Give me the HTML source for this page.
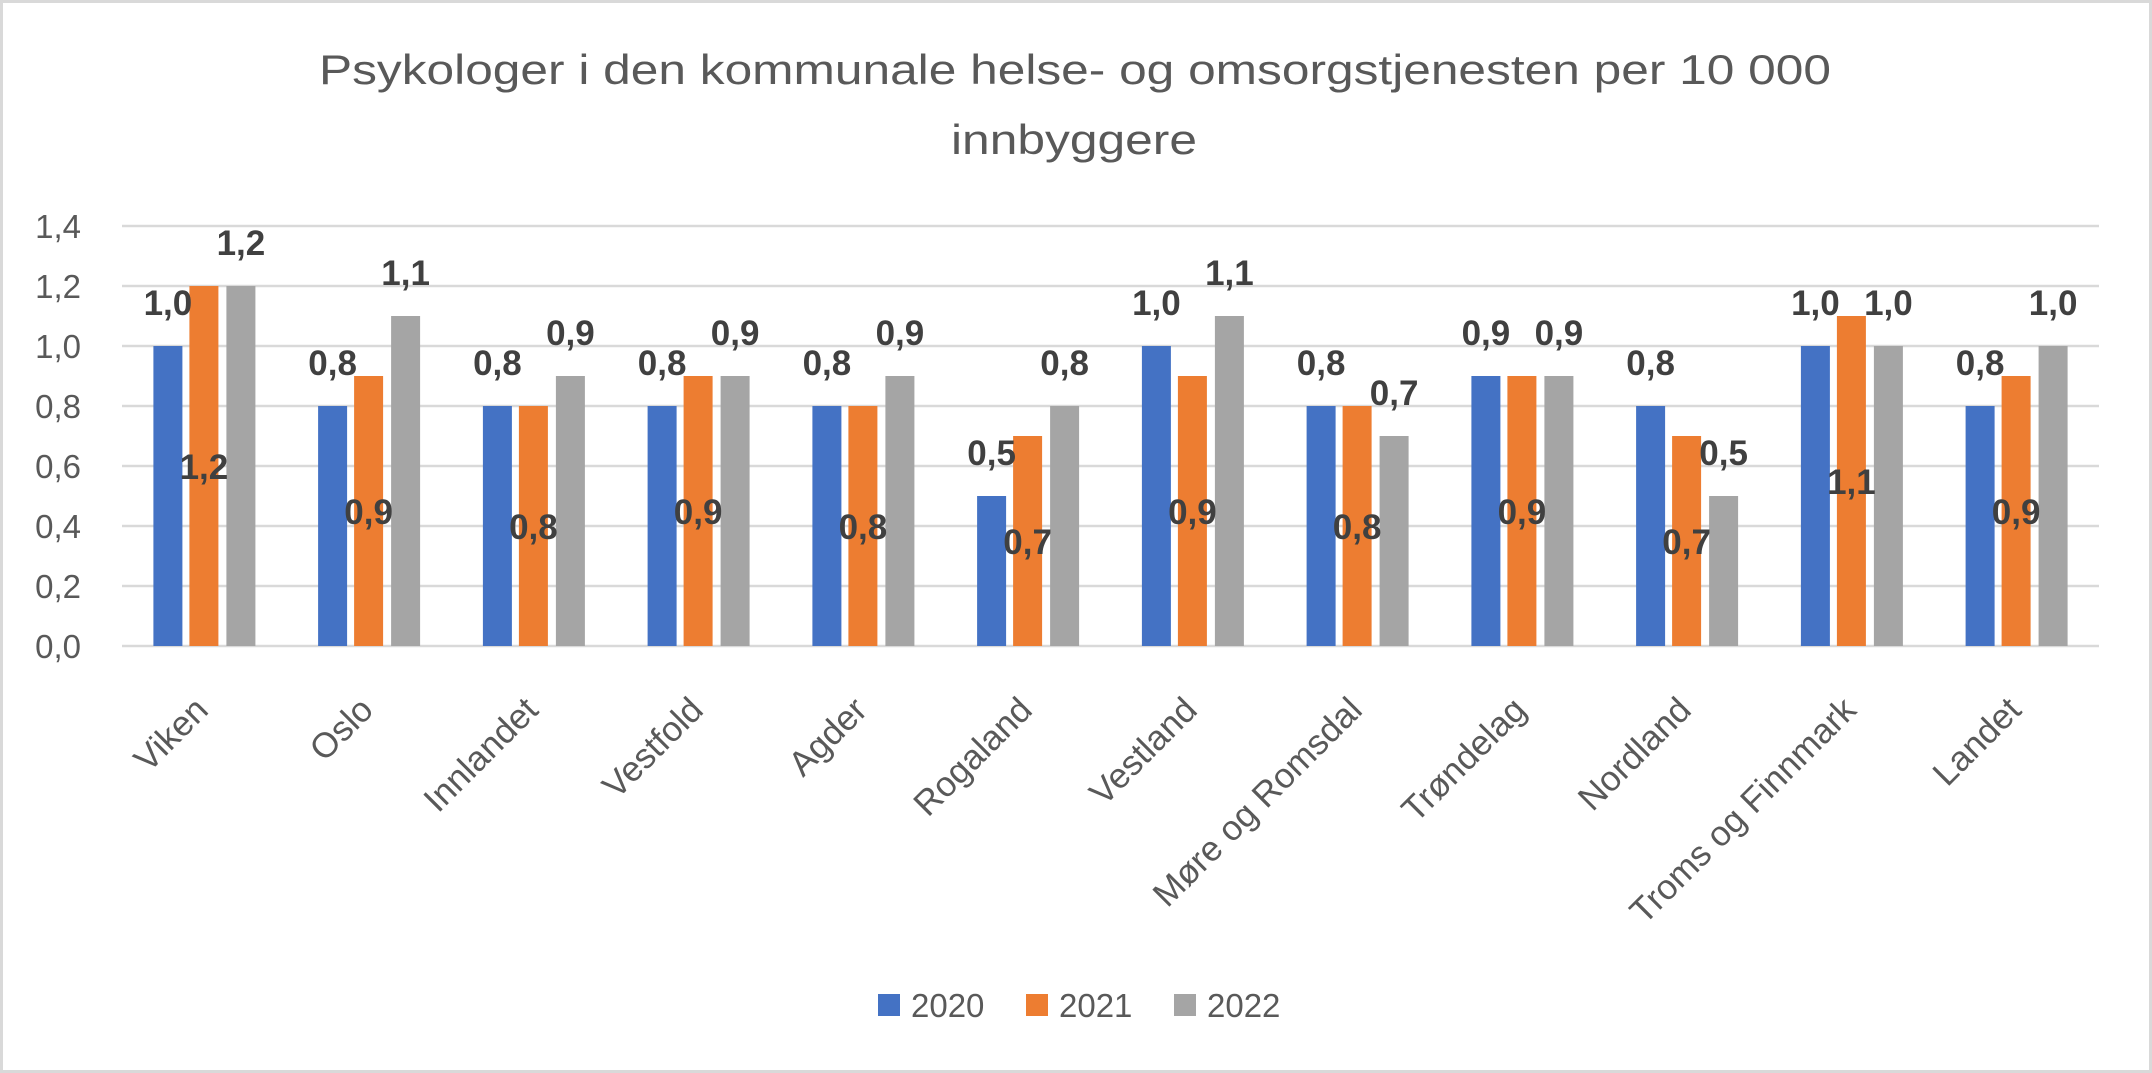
<!DOCTYPE html>
<html><head><meta charset="utf-8"><style>
html,body{margin:0;padding:0;background:#fff;}
svg{display:block;}
text{font-family:"Liberation Sans",sans-serif;}
.t{fill:#595959;font-size:33px;}
.d{fill:#404040;font-size:35px;font-weight:bold;text-anchor:middle;}
.c{fill:#595959;font-size:35px;text-anchor:end;}
</style></head><body>
<svg width="2152" height="1073" viewBox="0 0 2152 1073" xmlns="http://www.w3.org/2000/svg">
<rect x="1.5" y="1.5" width="2149" height="1070" fill="#fff" stroke="#d9d9d9" stroke-width="3"/>
<text x="1075" y="84" text-anchor="middle" style="font-size:42px;fill:#595959" textLength="1512" lengthAdjust="spacingAndGlyphs">Psykologer i den kommunale helse- og omsorgstjenesten per 10 000</text>
<text x="1074" y="154" text-anchor="middle" style="font-size:42px;fill:#595959" textLength="246" lengthAdjust="spacingAndGlyphs">innbyggere</text>
<g stroke="#d9d9d9" stroke-width="2.5">
<line x1="122" x2="2099" y1="226" y2="226"/><line x1="122" x2="2099" y1="286" y2="286"/>
<line x1="122" x2="2099" y1="346" y2="346"/><line x1="122" x2="2099" y1="406" y2="406"/>
<line x1="122" x2="2099" y1="466" y2="466"/><line x1="122" x2="2099" y1="526" y2="526"/>
<line x1="122" x2="2099" y1="586" y2="586"/><line x1="122" x2="2099" y1="646" y2="646"/>
</g>
<g class="t" text-anchor="end">
<text x="81" y="238">1,4</text><text x="81" y="298">1,2</text><text x="81" y="358">1,0</text>
<text x="81" y="418">0,8</text><text x="81" y="478">0,6</text><text x="81" y="538">0,4</text>
<text x="81" y="598">0,2</text><text x="81" y="658">0,0</text>
</g>
<g fill="#4472c4">
<rect x="153.4" y="346" width="29" height="300"/><rect x="318.1" y="406" width="29" height="240"/>
<rect x="482.9" y="406" width="29" height="240"/><rect x="647.6" y="406" width="29" height="240"/>
<rect x="812.4" y="406" width="29" height="240"/><rect x="977.1" y="496" width="29" height="150"/>
<rect x="1141.9" y="346" width="29" height="300"/><rect x="1306.6" y="406" width="29" height="240"/>
<rect x="1471.4" y="376" width="29" height="270"/><rect x="1636.1" y="406" width="29" height="240"/>
<rect x="1800.9" y="346" width="29" height="300"/><rect x="1965.6" y="406" width="29" height="240"/>
</g>
<g fill="#ed7d31">
<rect x="189.4" y="286" width="29" height="360"/><rect x="354.1" y="376" width="29" height="270"/>
<rect x="518.9" y="406" width="29" height="240"/><rect x="683.6" y="376" width="29" height="270"/>
<rect x="848.4" y="406" width="29" height="240"/><rect x="1013.1" y="436" width="29" height="210"/>
<rect x="1177.9" y="376" width="29" height="270"/><rect x="1342.6" y="406" width="29" height="240"/>
<rect x="1507.4" y="376" width="29" height="270"/><rect x="1672.1" y="436" width="29" height="210"/>
<rect x="1836.9" y="316" width="29" height="330"/><rect x="2001.6" y="376" width="29" height="270"/>
</g>
<g fill="#a5a5a5">
<rect x="226.4" y="286" width="29" height="360"/><rect x="391.1" y="316" width="29" height="330"/>
<rect x="555.9" y="376" width="29" height="270"/><rect x="720.6" y="376" width="29" height="270"/>
<rect x="885.4" y="376" width="29" height="270"/><rect x="1050.1" y="406" width="29" height="240"/>
<rect x="1214.9" y="316" width="29" height="330"/><rect x="1379.6" y="436" width="29" height="210"/>
<rect x="1544.4" y="376" width="29" height="270"/><rect x="1709.1" y="496" width="29" height="150"/>
<rect x="1873.9" y="346" width="29" height="300"/><rect x="2038.6" y="346" width="29" height="300"/>
</g>
<g class="d">
<text x="167.9" y="315">1,0</text><text x="332.6" y="375">0,8</text><text x="497.4" y="375">0,8</text>
<text x="662.1" y="375">0,8</text><text x="826.9" y="375">0,8</text><text x="991.6" y="465">0,5</text>
<text x="1156.4" y="315">1,0</text><text x="1321.1" y="375">0,8</text><text x="1485.9" y="345">0,9</text>
<text x="1650.6" y="375">0,8</text><text x="1815.4" y="315">1,0</text><text x="1980.1" y="375">0,8</text>

<text x="203.9" y="479">1,2</text><text x="368.6" y="524">0,9</text><text x="533.4" y="539">0,8</text>
<text x="698.1" y="524">0,9</text><text x="862.9" y="539">0,8</text><text x="1027.6" y="554">0,7</text>
<text x="1192.4" y="524">0,9</text><text x="1357.1" y="539">0,8</text><text x="1521.9" y="524">0,9</text>
<text x="1686.6" y="554">0,7</text><text x="1851.4" y="494">1,1</text><text x="2016.1" y="524">0,9</text>

<text x="240.9" y="255">1,2</text><text x="405.6" y="285">1,1</text><text x="570.4" y="345">0,9</text>
<text x="735.1" y="345">0,9</text><text x="899.9" y="345">0,9</text><text x="1064.6" y="375">0,8</text>
<text x="1229.4" y="285">1,1</text><text x="1394.1" y="405">0,7</text><text x="1558.9" y="345">0,9</text>
<text x="1723.6" y="465">0,5</text><text x="1888.4" y="315">1,0</text><text x="2053.1" y="315">1,0</text>
</g>
<g class="c">
<text transform="translate(210,712) rotate(-45)">Viken</text>
<text transform="translate(375,712) rotate(-45)">Oslo</text>
<text transform="translate(540,712) rotate(-45)">Innlandet</text>
<text transform="translate(705,712) rotate(-45)">Vestfold</text>
<text transform="translate(869,712) rotate(-45)">Agder</text>
<text transform="translate(1034,712) rotate(-45)">Rogaland</text>
<text transform="translate(1199,712) rotate(-45)">Vestland</text>
<text transform="translate(1364,712) rotate(-45)">Møre og Romsdal</text>
<text transform="translate(1528,712) rotate(-45)">Trøndelag</text>
<text transform="translate(1693,712) rotate(-45)">Nordland</text>
<text transform="translate(1858,712) rotate(-45)">Troms og Finnmark</text>
<text transform="translate(2023,712) rotate(-45)">Landet</text>
</g>
<rect x="878" y="994" width="22" height="22" fill="#4472c4"/>
<rect x="1026" y="994" width="22" height="22" fill="#ed7d31"/>
<rect x="1174" y="994" width="22" height="22" fill="#a5a5a5"/>
<g class="t">
<text x="911" y="1017">2020</text><text x="1059" y="1017">2021</text><text x="1207" y="1017">2022</text>
</g>
</svg>
</body></html>
